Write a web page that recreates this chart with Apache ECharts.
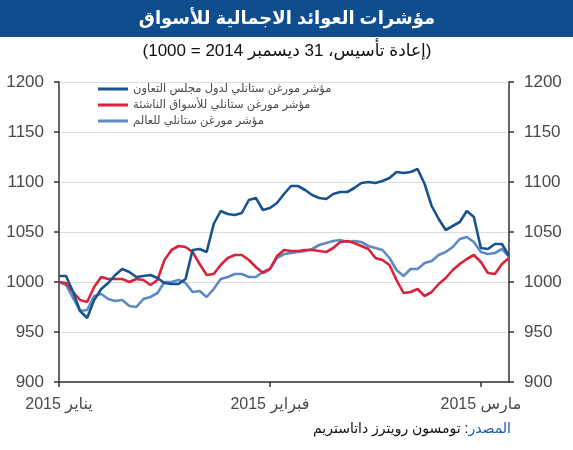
<!DOCTYPE html>
<html>
<head>
<meta charset="utf-8">
<script src="https://cdn.jsdelivr.net/npm/echarts@6/dist/echarts.min.js"></script>
<style>html,body{margin:0;padding:0;background:#fff}#c{width:573px;height:450px}</style>
</head>
<body>
<div id="c"></div>
<script>
const titleText = 'مؤشرات العوائد الاجمالية للأسواق';
const subtitleText = '(إعادة تأسيس، 31 ديسمبر 2014 = 1000)';
const sourceLabel = 'المصدر';
const sourceText = 'تومسون رويترز داتاستريم';
const seriesNames = ['مؤشر مورغن ستانلي لدول مجلس التعاون', 'مؤشر مورغن ستانلي للأسواق الناشئة', 'مؤشر مورغن ستانلي للعالم'];
const monthLabels = ['يناير 2015', 'فبراير 2015', 'مارس 2015'];
const monthTickIndex = [0, 30, 60];
const yTicks = [900, 950, 1000, 1050, 1100, 1150, 1200];

const gcc = [1006,1006,990,971,964,982,993,999,1007,1013,1010,1005,1006,1007,1004,999,998,998,1003,1032,1033,1030,1058,1071,1068,1067,1069,1082,1084,1072,1074,1079,1088,1096,1096,1092,1087,1084,1083,1088,1090,1090,1094,1099,1100,1099,1101,1104,1110,1109,1110,1113,1098,1076,1063,1052,1056,1060,1071,1065,1034,1033,1038,1038,1026];
const em = [1000,999,990,982,980,995,1005,1003,1003,1003,1000,1003,1002,997,1002,1022,1032,1036,1035,1030,1018,1007,1008,1017,1024,1027,1027,1022,1015,1009,1013,1026,1032,1031,1031,1032,1032,1031,1030,1034,1040,1041,1039,1036,1033,1024,1022,1017,1002,989,990,993,986,990,998,1004,1012,1018,1023,1027,1020,1009,1008,1018,1024];
const world = [1000,997,984,971,972,986,988,983,981,982,976,975,983,985,989,1000,1000,1002,999,990,991,985,993,1003,1005,1008,1008,1005,1005,1010,1013,1024,1028,1029,1030,1031,1033,1037,1039,1041,1042,1040,1041,1040,1036,1034,1032,1024,1012,1006,1013,1013,1019,1021,1027,1030,1035,1043,1045,1040,1030,1028,1029,1033,1025];

const categories = gcc.map((_, i) => String(i));
// right-to-left embedding so Arabic reads correctly
const rtl = s => '\u202B' + s + '\u202C';
const FONT = '"Liberation Sans", Arial, "DejaVu Sans", sans-serif';
const colors = ['#17548f', '#d7233c', '#5e8ac4'];

const chart = echarts.init(document.getElementById('c'), null, {renderer: 'canvas'});
const yAxisBase = {
  type: 'value', min: yTicks[0], max: yTicks[yTicks.length - 1], interval: 50,
  axisLine: {show: true, lineStyle: {color: '#333', width: 1.5}},
  axisTick: {show: true, length: 5, lineStyle: {color: '#333', width: 1.5}},
  splitLine: {show: true, lineStyle: {color: '#dcdcdc', width: 1}},
  axisLabel: {color: '#4a4a4a', fontSize: 17, fontFamily: FONT, margin: 15, formatter: v => String(v)}
};
chart.setOption({
  animation: false,
  backgroundColor: '#fff',
  grid: {left: 59, right: 64, top: 82, bottom: 68, containLabel: false},
  graphic: [
    {type: 'rect', shape: {x: 0, y: 0, width: 573, height: 37}, style: {fill: '#0f4d8c'}, z: 0},
    {type: 'text', x: 287, y: 19, style: {text: rtl(titleText), fill: '#fff', font: 'bold 18px ' + FONT, align: 'center', verticalAlign: 'middle'}},
    {type: 'text', x: 287, y: 51, style: {text: rtl(subtitleText), fill: '#111', font: '17px ' + FONT, align: 'center', verticalAlign: 'middle'}},
    {type: 'text', x: 511, y: 429, style: {
      text: '{b|' + rtl(sourceText) + '} {b|:}{a|' + rtl(sourceLabel) + '}',
      fill: '#111', font: '14px ' + FONT,
      align: 'right', verticalAlign: 'middle',
      rich: {a: {fill: '#1f5aa6', font: '14px ' + FONT}, b: {fill: '#111', font: '14px ' + FONT}}
    }}
  ],
  legend: {
    orient: 'vertical', left: 98, top: 83, itemGap: 4,
    itemWidth: 30, itemHeight: 3, icon: 'rect',
    data: seriesNames,
    backgroundColor: '#fff',
    padding: [0, 4, 0, 0],
    formatter: n => rtl(n),
    textStyle: {color: '#4a4a4a', fontSize: 11.5, fontFamily: FONT}
  },
  xAxis: {
    type: 'category', data: categories, boundaryGap: false,
    axisLine: {show: true, lineStyle: {color: '#333', width: 1.5}},
    axisTick: {show: true, length: 5, interval: (i) => monthTickIndex.includes(i), lineStyle: {color: '#333', width: 1.5}},
    axisLabel: {
      interval: (i) => monthTickIndex.includes(i),
      formatter: (v, i) => { const k = monthTickIndex.indexOf(i); return k >= 0 ? rtl(monthLabels[k]) : ''; },
      color: '#4a4a4a', fontSize: 16, fontFamily: FONT, margin: 15
    },
    splitLine: {show: false}
  },
  yAxis: [
    Object.assign({}, yAxisBase, {position: 'left'}),
    Object.assign({}, yAxisBase, {position: 'right', splitLine: {show: false}})
  ],
  series: [
    {name: seriesNames[2], type: 'line', data: world, symbol: 'none', lineStyle: {width: 2.6, color: colors[2]}, itemStyle: {color: colors[2]}, z: 2},
    {name: seriesNames[1], type: 'line', data: em, symbol: 'none', lineStyle: {width: 2.6, color: colors[1]}, itemStyle: {color: colors[1]}, z: 3},
    {name: seriesNames[0], type: 'line', data: gcc, symbol: 'none', lineStyle: {width: 2.6, color: colors[0]}, itemStyle: {color: colors[0]}, z: 4}
  ]
});
</script>
</body>
</html>
